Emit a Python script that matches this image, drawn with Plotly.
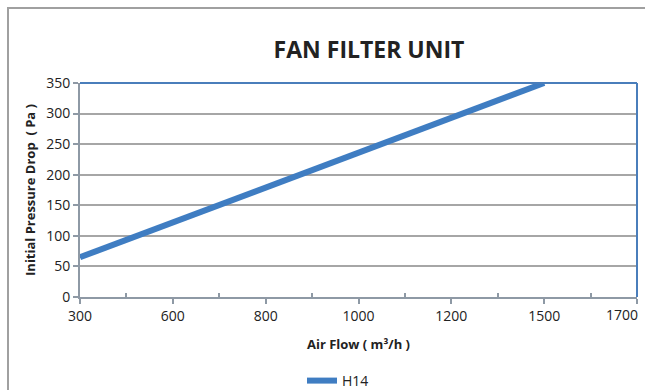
import plotly.graph_objects as go

# ── Data ──────────────────────────────────────────────────────────────────────
AIR_FLOW = ["300", "600", "800", "1000", "1200", "1500", "1700"]
PRESSURE_H14 = [65, 122, 180, 236, 293, 350, None]
SERIES_NAME = "H14"

# ── Style ─────────────────────────────────────────────────────────────────────
LINE_CLR = "#3f7dc2"
BORDER_BLUE = "#4a7ebb"
GRID = "#a6a6a6"
AXIS = "#8e99a5"
TXT = "#222222"
FONT = "Open Sans"

W, H = 645, 390
L, R, T, B = 80, 8, 83, 93
PW, PH = W - L - R, H - T - B


def px_x(p):
    return (p - L) / PW


def px_y(p):
    return (H - B - p) / PH


# last label is drawn right-aligned to its tick (as in the original) so it stays inside
tick_text = AIR_FLOW[:-1] + [""]

fig = go.Figure()
fig.add_trace(go.Scatter(
    x=AIR_FLOW, y=PRESSURE_H14,
    mode="lines", name=SERIES_NAME,
    line=dict(color=LINE_CLR, width=6),
))
# invisible helper for minor tick marks between categories
fig.add_trace(go.Scatter(x=[0, 6], y=[None, None], xaxis="x2",
                         showlegend=False, hoverinfo="skip"))

fig.update_layout(
    width=W, height=H,
    margin=dict(l=L, r=R, t=T, b=B, autoexpand=False),
    paper_bgcolor="white", plot_bgcolor="white",
    font=dict(family=FONT, color=TXT, size=14),
    showlegend=True,
    legend=dict(orientation="h", xref="container", yref="container",
                x=302 / W, xanchor="left", y=1 - 381 / H, yanchor="middle",
                font=dict(size=14, color=TXT), itemwidth=30,
                bgcolor="rgba(0,0,0,0)"),
    xaxis=dict(type="category", categoryorder="array", categoryarray=AIR_FLOW,
               tickvals=AIR_FLOW, ticktext=tick_text,
               range=[0, 6], showgrid=False, zeroline=False, automargin=False,
               showline=True, linecolor=AXIS, linewidth=2,
               ticks="outside", ticklen=5, tickwidth=2, tickcolor=AXIS,
               tickfont=dict(size=14, color=TXT),
               title=dict(text="<b>Air Flow ( m³/h )</b>", font=dict(size=13, color=TXT),
                          standoff=16)),
    xaxis2=dict(overlaying="x", range=[0, 6], showgrid=False, zeroline=False,
                showticklabels=False, tickvals=[0.5, 1.5, 2.5, 3.5, 4.5, 5.5],
                ticks="inside", ticklen=4, tickwidth=1.5, tickcolor=AXIS,
                side="bottom", anchor="y", automargin=False),
    yaxis=dict(range=[0, 350], dtick=50, showgrid=True, gridcolor=GRID, gridwidth=1.5,
               zeroline=False, showline=True, linecolor=AXIS, linewidth=2, automargin=False,
               ticks="outside", ticklen=5, tickwidth=2, tickcolor=AXIS,
               tickfont=dict(size=14, color=TXT),
               title=dict(text="<b>Initial Pressure Drop  ( Pa )</b>",
                          font=dict(size=13, color=TXT), standoff=8)),
    title=dict(text="<b>FAN FILTER UNIT</b>", font=dict(size=23, color=TXT, family="Open Sans"),
               x=369 / W, xanchor="center", y=1 - 50 / H, yanchor="middle"),
)

# the 1700 label, right-aligned at the last tick
fig.add_annotation(x=1, xref="paper", y=0, yref="paper",
                   text=AIR_FLOW[-1], showarrow=False,
                   xanchor="right", yanchor="top", xshift=3, yshift=-6,
                   font=dict(size=14, color=TXT))

# plot-area border: blue on top and right
fig.add_shape(type="line", xref="paper", yref="paper", x0=0, x1=1, y0=1, y1=1,
              line=dict(color=BORDER_BLUE, width=2))
fig.add_shape(type="line", xref="paper", yref="paper", x0=1, x1=1, y0=0, y1=1,
              line=dict(color=BORDER_BLUE, width=2))

# outer chart frame
fig.add_shape(type="rect", xref="paper", yref="paper",
              x0=px_x(8), x1=px_x(660), y0=px_y(400), y1=px_y(8),
              line=dict(color="#a0a0a0", width=2), layer="below")

fig.write_html("out.html", config={"displayModeBar": False},
               post_script="document.body.style.margin='0';")
